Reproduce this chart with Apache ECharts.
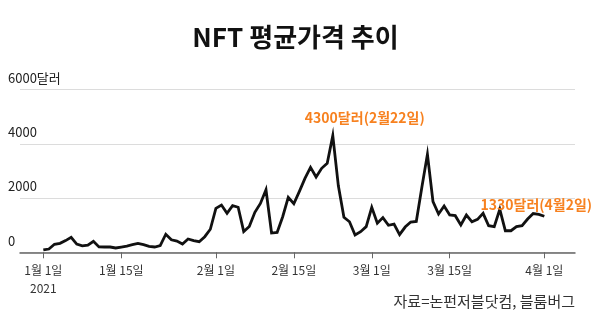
<!DOCTYPE html>
<html>
<head>
<meta charset="utf-8">
<script src="https://cdn.jsdelivr.net/npm/echarts@6/dist/echarts.min.js"></script>
<style>
  html, body { margin: 0; padding: 0; background: #fff; }
  #chart { width: 600px; height: 328px; }
</style>
</head>
<body>
<div id="chart"></div>
<script>
// Daily average NFT price (USD), one value per day from 2021-01-01 through 2021-04-01
const startDate = '2021-01-01';
const avgPrice = [
  85, 120, 295, 330, 430, 550, 300, 235, 260, 405,
  200, 195, 195, 160, 195, 230, 280, 330, 280, 220,
  195, 245, 665, 460, 415, 305, 490, 430, 390, 575,
  850, 1620, 1740, 1435, 1720, 1660, 765, 950, 1475, 1800,
  2305, 710, 735, 1310, 2025, 1790, 2245, 2725, 3130, 2775,
  3095, 3280, 4300, 2450, 1290, 1125, 635, 760, 945, 1655,
  1070, 1280, 995, 1040, 650, 930, 1115, 1140, 2400, 3610,
  1865, 1410, 1705, 1375, 1350, 1005, 1375, 1125, 1215, 1435,
  980, 945, 1585, 795, 795, 945, 980, 1225, 1430, 1400,
  1330
];

// x-axis tick dates and their labels
const tickDates = ['2021-01-01', '2021-01-15', '2021-02-01', '2021-02-15', '2021-03-01', '2021-03-15', '2021-04-01'];
const tickLabels = ['1월 1일\n2021', '1월 15일', '2월 1일', '2월 15일', '3월 1일', '3월 15일', '4월 1일'];

// y-axis ticks
const yTicks = [0, 2000, 4000, 6000];
const yUnit = '달러';

// annotated points: index into avgPrice and text
const peakIndex = 52;
const peakText = '4300달러(2월22일)';
const lastIndex = avgPrice.length - 1;
const lastText = '1330달러(4월2일)';

const sourceText = '자료=논펀저블닷컴, 블룸버그';
const titleText = 'NFT 평균가격 추이';

// day offset of a 'YYYY-MM-DD' date from startDate (UTC arithmetic, no DST drift)
function dayOffset(s) {
  const toUTC = (d) => { const p = d.split('-').map(Number); return Date.UTC(p[0], p[1] - 1, p[2]); };
  return Math.round((toUTC(s) - toUTC(startDate)) / 86400000);
}
const tickDays = tickDates.map(dayOffset);

const orange = '#f7811f';
const font = '"Noto Sans CJK KR", "Noto Sans", sans-serif';

const chart = echarts.init(document.getElementById('chart'), null, { renderer: 'canvas' });
chart.setOption({
  animation: false,
  backgroundColor: '#fff',
  textStyle: { fontFamily: font },
  graphic: [{
    type: 'text',
    x: 295.5,
    y: 37,
    style: {
      text: titleText,
      font: 'bold 26px ' + font,
      fill: '#111',
      align: 'center',
      verticalAlign: 'middle'
    }
  }, {
    type: 'text',
    x: 575,
    y: 301.5,
    style: {
      text: sourceText,
      font: '15px ' + font,
      fill: '#333',
      align: 'right',
      verticalAlign: 'middle'
    }
  }],
  grid: { left: 20, right: 25, top: 89.5, bottom: 75.7, containLabel: false },
  xAxis: {
    type: 'value',
    min: -4.19,
    max: lastIndex + 5.51,
    splitLine: { show: false },
    axisLine: { show: true, onZero: false, lineStyle: { color: '#666', width: 1.5 } },
    axisTick: { show: true, customValues: tickDays, length: 6, lineStyle: { color: '#666', width: 1 } },
    axisLabel: {
      customValues: tickDays,
      margin: 9,
      fontSize: 12,
      lineHeight: 18,
      color: '#333',
      fontFamily: font,
      formatter: function (val) {
        const idx = tickDays.indexOf(Math.round(val));
        return idx >= 0 ? tickLabels[idx] : '';
      }
    }
  },
  yAxis: {
    type: 'value',
    min: yTicks[0],
    max: yTicks[yTicks.length - 1],
    interval: yTicks[1] - yTicks[0],
    axisLine: { show: false },
    axisTick: { show: false },
    splitLine: { show: true, lineStyle: { color: '#dcdcdc', width: 1.2 } },
    axisLabel: {
      align: 'left',
      verticalAlign: 'bottom',
      margin: 12,
      padding: [0, 0, 5, 0],
      fontSize: 13,
      color: '#222',
      fontFamily: font,
      formatter: function (v) { return v === yTicks[yTicks.length - 1] ? v + yUnit : String(v); }
    }
  },
  series: [{
    type: 'line',
    data: avgPrice.map((v, i) => [i, v]),
    symbol: 'none',
    showSymbol: false,
    smooth: false,
    lineStyle: { color: '#111', width: 2.8, join: 'miter' },
    emphasis: { disabled: true },
    markPoint: {
      symbol: 'circle',
      symbolSize: 0,
      silent: true,
      label: {
        show: true,
        color: orange,
        fontSize: 14,
        fontWeight: 'bold',
        fontFamily: font,
        position: 'inside'
      },
      data: [
        { coord: [peakIndex, avgPrice[peakIndex]], label: { formatter: peakText, offset: [32, -18] } },
        { coord: [lastIndex, avgPrice[lastIndex]], label: { formatter: lastText, offset: [-8, -12] } }
      ]
    }
  }]
});
</script>
</body>
</html>
